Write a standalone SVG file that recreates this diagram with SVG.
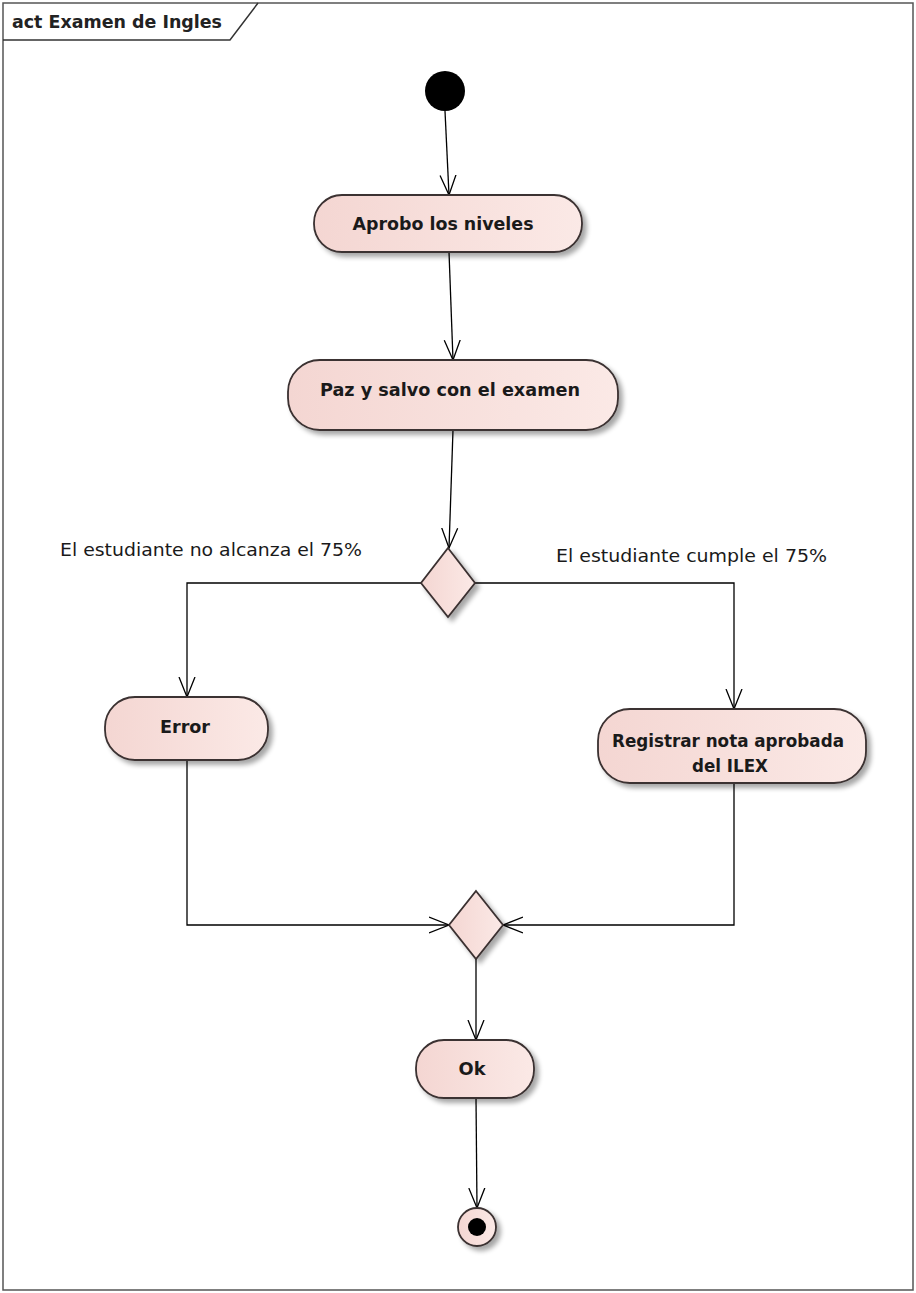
<svg xmlns="http://www.w3.org/2000/svg" width="916" height="1293" viewBox="0 0 916 1293">
  <style>
    .node { stroke: #3a3030; stroke-width: 1.8; fill: url(#fillGrad); filter: url(#shadow); }
    .lbl { font-family: "DejaVu Sans", "Liberation Sans", sans-serif; font-size: 17px; font-weight: bold; fill: #1a1a1a; text-anchor: middle; }
    .guard { font-family: "DejaVu Sans", "Liberation Sans", sans-serif; font-size: 17px; fill: #1a1a1a; }
    .flow { fill: none; stroke: #000; stroke-width: 1.3; }
  </style>
  <defs>
    <linearGradient id="fillGrad" x1="0" y1="0" x2="1" y2="0">
      <stop offset="0" stop-color="#f4d6d2"/>
      <stop offset="1" stop-color="#fbe9e6"/>
    </linearGradient>
    <filter id="shadow" x="-20%" y="-20%" width="150%" height="160%">
      <feGaussianBlur in="SourceAlpha" stdDeviation="2.5"/>
      <feOffset dx="4" dy="4" result="b"/>
      <feComponentTransfer><feFuncA type="linear" slope="0.35"/></feComponentTransfer>
      <feMerge><feMergeNode/><feMergeNode in="SourceGraphic"/></feMerge>
    </filter>
    <marker id="open" markerWidth="22" markerHeight="20" refX="20" refY="10" orient="auto" markerUnits="userSpaceOnUse">
      <path d="M0,2 L20,10 L0,18" fill="none" stroke="#000" stroke-width="1.3"/>
    </marker>
  </defs>

  <rect width="916" height="1293" fill="#fff"/>

  <!-- diagram frame -->
  <g id="frame">
    <rect x="3" y="3" width="910" height="1287" fill="none" stroke="#555" stroke-width="1.5"/>
    <path d="M3,40 H230 L258,3" fill="none" stroke="#333" stroke-width="1.5"/>
    <text x="12" y="28" font-family="DejaVu Sans, Liberation Sans, sans-serif" font-size="17" font-weight="bold" fill="#222" textLength="210" lengthAdjust="spacingAndGlyphs">act Examen de Ingles</text>
  </g>

  <!-- control flows -->
  <g id="connectors">
    <path class="flow" d="M445,111 L449,195" marker-end="url(#open)"/>
    <path class="flow" d="M449,252 L453,360" marker-end="url(#open)"/>
    <path class="flow" d="M453,430 L449,548" marker-end="url(#open)"/>
    <path class="flow" d="M421,583 H187 V697" marker-end="url(#open)"/>
    <path class="flow" d="M475,583 H734 V709" marker-end="url(#open)"/>
    <path class="flow" d="M187,760 V925 H449" marker-end="url(#open)"/>
    <path class="flow" d="M734,783 V925 H503" marker-end="url(#open)"/>
    <path class="flow" d="M476,959 V1040" marker-end="url(#open)"/>
    <path class="flow" d="M476,1098 L477,1208" marker-end="url(#open)"/>
    <text class="guard" x="60" y="556" textLength="302" lengthAdjust="spacingAndGlyphs">El estudiante no alcanza el 75%</text>
    <text class="guard" x="556" y="562" textLength="271" lengthAdjust="spacingAndGlyphs">El estudiante cumple el 75%</text>
  </g>

  <g id="initial">
    <circle cx="445" cy="91" r="20" fill="#000"/>
  </g>

  <g id="aprobo">
    <rect class="node" x="314" y="195" width="268" height="57" rx="28" ry="28"/>
    <text class="lbl" x="443" y="230" textLength="181" lengthAdjust="spacingAndGlyphs">Aprobo los niveles</text>
  </g>

  <g id="pazysalvo">
    <rect class="node" x="288" y="360" width="330" height="70" rx="32" ry="32"/>
    <text class="lbl" x="450" y="396" textLength="260" lengthAdjust="spacingAndGlyphs">Paz y salvo con el examen</text>
  </g>

  <g id="decision">
    <path class="node" d="M448,548 L475,583 L448,617 L421,583 Z"/>
  </g>

  <g id="error">
    <rect class="node" x="105" y="697" width="163" height="63" rx="30" ry="30"/>
    <text class="lbl" x="185" y="733" textLength="50" lengthAdjust="spacingAndGlyphs">Error</text>
  </g>

  <g id="registrar">
    <rect class="node" x="598" y="709" width="268" height="74" rx="32" ry="32"/>
    <text class="lbl" x="728" y="747" textLength="232" lengthAdjust="spacingAndGlyphs">Registrar nota aprobada</text>
    <text class="lbl" x="730" y="772" textLength="76" lengthAdjust="spacingAndGlyphs">del ILEX</text>
  </g>

  <g id="merge">
    <path class="node" d="M476,891 L503,925 L476,959 L449,925 Z"/>
  </g>

  <g id="ok">
    <rect class="node" x="416" y="1040" width="118" height="58" rx="28" ry="28"/>
    <text class="lbl" x="472" y="1075" textLength="27" lengthAdjust="spacingAndGlyphs">Ok</text>
  </g>

  <g id="final">
    <circle class="node" cx="477" cy="1227" r="19"/>
    <circle cx="477" cy="1227" r="9" fill="#000"/>
  </g>
</svg>
